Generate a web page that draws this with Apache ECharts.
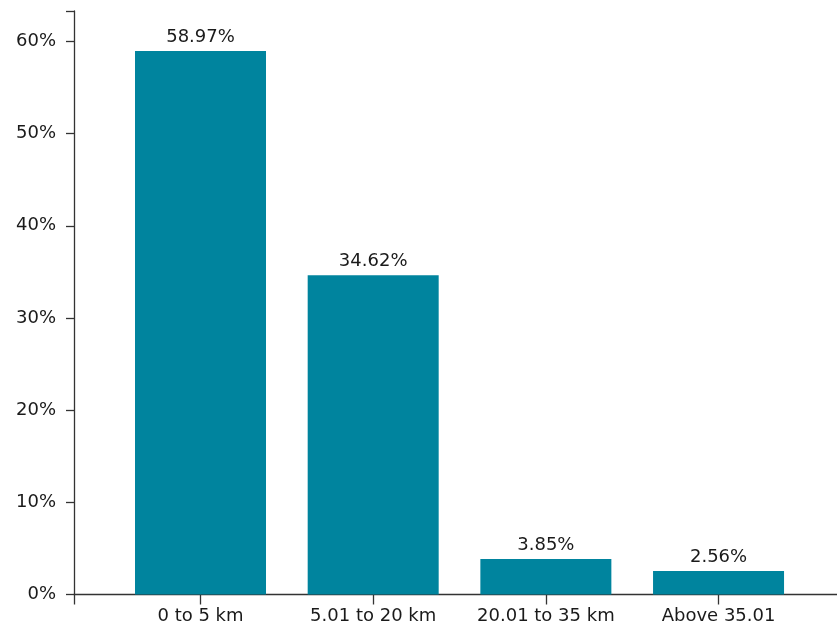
<!DOCTYPE html>
<html>
<head>
<meta charset="utf-8">
<script src="https://cdn.jsdelivr.net/npm/echarts@6/dist/echarts.min.js"></script>
<style>html,body{margin:0;padding:0;background:#fff}#c{width:837px;height:626px}</style>
</head>
<body>
<div id="c"></div>
<script>
const categories = ['0 to 5 km', '5.01 to 20 km', '20.01 to 35 km', 'Above 35.01'];
const values = [58.97, 34.62, 3.85, 2.56];
const yTicks = [0, 10, 20, 30, 40, 50, 60];

const xMin = -0.7326, xMax = 3.686;
const chart = echarts.init(document.getElementById('c'));
const font = '"DejaVu Sans", sans-serif';
chart.setOption({
  animation: false,
  grid: {left: 74, right: 0, top: 11, bottom: 31.5, containLabel: false},
  xAxis: {
    type: 'value', min: xMin, max: xMax,
    splitLine: {show: false},
    axisLine: {show: true, onZero: false, lineStyle: {color: '#333', width: 1.3}},
    axisTick: {show: true, length: 10, customValues: [xMin, 0, 1, 2, 3], lineStyle: {color: '#333', width: 1.3}},
    axisLabel: {customValues: [0, 1, 2, 3], formatter: v => categories[Math.round(v)] || '', color: '#1a1a1a', fontSize: 18, fontFamily: font, margin: 13}
  },
  yAxis: {
    type: 'value', min: 0, max: 63.3, interval: 10,
    splitLine: {show: false},
    axisLine: {show: true, onZero: false, lineStyle: {color: '#333', width: 1.3}},
    axisTick: {show: true, length: 8, lineStyle: {color: '#333', width: 1.3}},
    axisLabel: {formatter: v => yTicks.includes(Math.round(v * 1000) / 1000) ? v + '%' : '', color: '#1a1a1a', fontSize: 18, fontFamily: font, margin: 18, padding: [3, 0, 0, 0]}
  },
  series: [{
    type: 'bar',
    data: values.map((v, i) => [i, v]),
    barWidth: 131,
    itemStyle: {color: '#00849e'},
    label: {show: true, position: 'top', distance: 5, formatter: p => p.value[1].toFixed(2) + '%', color: '#1a1a1a', fontSize: 18, fontFamily: font}
  }]
});
</script>
</body>
</html>
